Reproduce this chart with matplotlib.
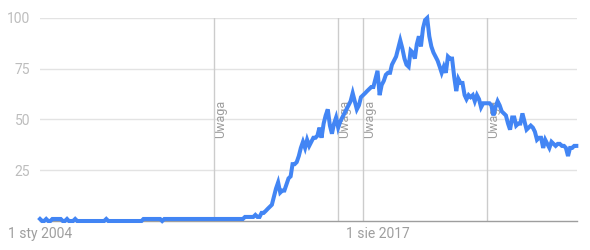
import matplotlib
matplotlib.use("Agg")
import matplotlib.pyplot as plt
import pandas as pd

plt.rcParams['font.family'] = ['Roboto', 'DejaVu Sans']

dates = pd.date_range("2004-01-01", periods=260, freq="MS")

values = [
    # 2004
    1, 0, 0, 1, 0, 0, 1, 1, 1, 1, 1, 0,
    # 2005
    0, 1, 0, 0, 0, 1, 0, 0, 0, 0, 0, 0,
    # 2006
    0, 0, 0, 0, 0, 0, 0, 0, 1, 0, 0, 0,
    # 2007
    0, 0, 0, 0, 0, 0, 0, 0, 0, 0, 0, 0,
    # 2008
    0, 0, 1, 1, 1, 1, 1, 1, 1, 1, 1, 0,
    # 2009
    1, 1, 1, 1, 1, 1, 1, 1, 1, 1, 1, 1,
    # 2010
    1, 1, 1, 1, 1, 1, 1, 1, 1, 1, 1, 1,
    # 2011
    1, 1, 1, 1, 1, 1, 1, 1, 1, 1, 1, 1,
    # 2012
    1, 1, 1, 2, 2, 2, 2, 2, 3, 2, 2, 4,
    # 2013
    4, 5, 6, 7, 8, 12, 16, 19, 14, 15, 15, 18,
    # 2014
    21, 22, 28, 28, 29, 32, 36, 39, 36, 40, 37, 39,
    # 2015
    41, 41, 42, 46, 41, 48, 52, 55, 47, 43, 48, 51,
    # 2016
    46, 49, 51, 53, 55, 57, 59, 63, 59, 55, 57, 61,
    # 2017
    62, 63, 64, 65, 66, 66, 70, 74, 62, 67, 69, 72,
    # 2018
    73, 73, 77, 79, 81, 85, 89, 85, 80, 77, 76, 84,
    # 2019
    83, 80, 87, 91, 86, 95, 99, 100, 91, 86, 83, 81,
    # 2020
    79, 76, 73, 76, 73, 81, 80, 80, 71, 64, 70, 68,
    # 2021
    68, 62, 60, 62, 61, 62, 59, 62, 60, 56, 58, 58,
    # 2022
    58, 58, 57, 52, 56, 59, 57, 54, 53, 52, 48, 45,
    # 2023
    51, 51, 47, 48, 48, 53, 49, 45, 46, 47, 46, 44,
    # 2024
    40, 41, 41, 36, 40, 38, 36, 39, 38, 37, 38, 38,
    # 2025
    37, 37, 36, 32, 36, 36, 37, 37,
]

note_dates = pd.to_datetime(["2011-01-01", "2016-01-01", "2017-01-01", "2022-01-01"])
note_label = "Uwaga"

xtick_dates = pd.to_datetime(["2004-01-01", "2017-08-01"])
xtick_labels = ["1 sty 2004", "1 sie 2017"]
ytick_vals = [25, 50, 75, 100]

fig = plt.figure(figsize=(5.9, 2.5), dpi=100)
ax = fig.add_axes([40/590, 29/250, 537/590, 203/250])

for y in ytick_vals:
    ax.axhline(y, color="#e3e3e3", lw=1.0, zorder=0)

for d in note_dates:
    ax.axvline(d, color="#cccccc", lw=1.0, zorder=1)
    ax.text(d + pd.Timedelta(days=95), 50.5, note_label, rotation=90,
            ha="center", va="center", fontsize=9, color="#9e9e9e", zorder=2)

ax.plot(dates, values, color="#4285f4", lw=2.9, solid_joinstyle="miter",
        clip_on=False, zorder=3)

ax.set_xlim(pd.Timestamp("2004-01-01"), dates[-1] + pd.Timedelta(days=10))
ax.set_ylim(0, 100)

for s in ["top", "right", "left"]:
    ax.spines[s].set_visible(False)
ax.spines["bottom"].set_color("#9e9e9e")
ax.spines["bottom"].set_linewidth(1.0)

ax.set_yticks(ytick_vals)
ax.set_yticklabels([str(v) for v in ytick_vals])
ax.tick_params(axis="y", length=0, pad=7, labelsize=10, labelcolor="#bdbdbd")

ax.set_xticks(xtick_dates)
ax.set_xticklabels(xtick_labels)
ax.tick_params(axis="x", length=0, pad=4, labelsize=10, labelcolor="#9e9e9e")

fig.savefig("out.png", dpi=100, facecolor="white")
